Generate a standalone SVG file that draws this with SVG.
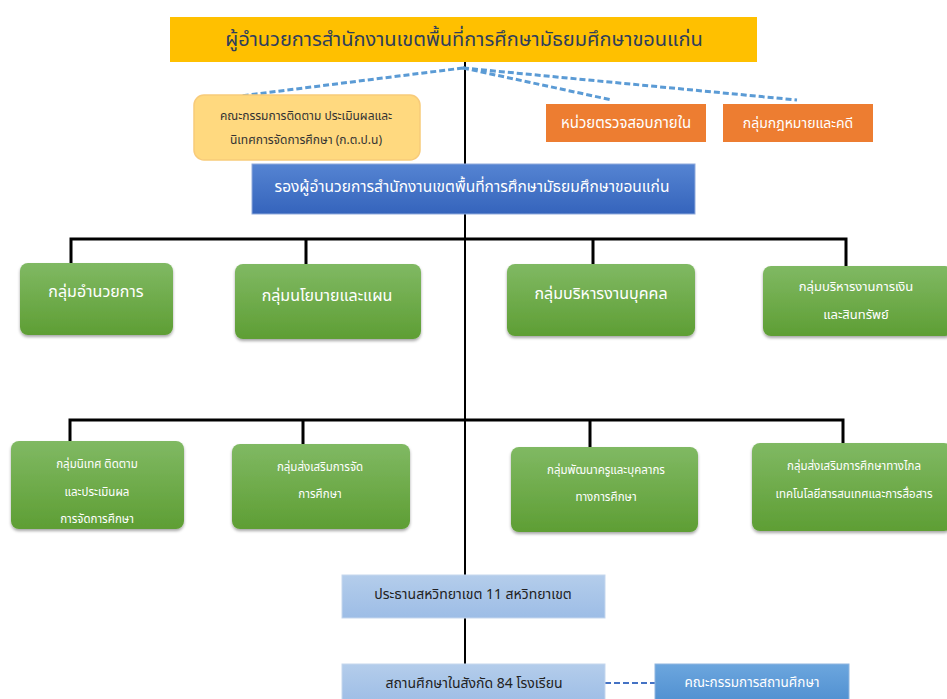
<svg xmlns="http://www.w3.org/2000/svg" width="947" height="699" viewBox="0 0 947 699">
<defs>
<linearGradient id="gGreen" x1="0" y1="0" x2="0" y2="1"><stop offset="0" stop-color="#80B963"/><stop offset="1" stop-color="#5E9E34"/></linearGradient>
<linearGradient id="gBlue" x1="0" y1="0" x2="0" y2="1"><stop offset="0" stop-color="#5584D2"/><stop offset="1" stop-color="#3564BC"/></linearGradient>
<linearGradient id="gLight" x1="0" y1="0" x2="0" y2="1"><stop offset="0" stop-color="#B4CDEB"/><stop offset="1" stop-color="#9DBDE6"/></linearGradient>
<linearGradient id="gMid" x1="0" y1="0" x2="0" y2="1"><stop offset="0" stop-color="#6CA6DE"/><stop offset="1" stop-color="#4F8FD0"/></linearGradient>
<filter id="sh" x="-10%" y="-10%" width="120%" height="130%"><feDropShadow dx="0" dy="2" stdDeviation="1.5" flood-color="#000" flood-opacity="0.35"/></filter>
<style>
text{font-family:"Noto Sans Thai","Noto Sans","DejaVu Sans",sans-serif;text-anchor:middle;dominant-baseline:central}
.solid{stroke:#000;stroke-width:3;fill:none}
.thin{stroke:#000;stroke-width:2;fill:none}
.dash{stroke:#5B9BD5;stroke-width:3;stroke-dasharray:6 3;fill:none}
.green{fill:url(#gGreen);filter:url(#sh)}
.gt{fill:#fff;font-size:16px}
.gs{fill:#fff;font-size:11.5px}
.wt{fill:#fff}
</style>
</defs>
<rect width="947" height="699" fill="#fff"/>
<g id="connectors">
<line class="thin" x1="465" y1="62" x2="465" y2="664"/>
<path class="dash" d="M463 68 L240 96 M463 68 L612 100 M463 68 L797 100"/>
<path class="solid" d="M71 265 V239 H846 V266 M306 239 V264 M593 239 V264"/>
<path class="solid" d="M70 443 V420 H843 V443 M303 420 V444 M590 420 V447"/>
<line class="dash" x1="605" y1="683" x2="655" y2="683" style="stroke:#4472C4;stroke-width:2"/>
</g>
<g id="director">
<rect x="170" y="17" width="587" height="45" fill="#FFC000"/>
<text x="464" y="40" font-size="20" fill="#2F3E5C">ผู้อำนวยการสำนักงานเขตพื้นที่การศึกษามัธยมศึกษาขอนแก่น</text>
</g>
<g id="kpn">
<rect x="194" y="95" width="226" height="65" rx="10" fill="#FFD97F" stroke="#F8CB7A" stroke-width="1.5"/>
<text x="306" y="116" font-size="12" fill="#333">คณะกรรมการติดตาม ประเมินผลและ</text>
<text x="306" y="140" font-size="12" fill="#333">นิเทศการจัดการศึกษา (ก.ต.ป.น)</text>
</g>
<g id="audit">
<rect x="546" y="104" width="160" height="38" fill="#ED7D31"/>
<text class="wt" x="626" y="123" font-size="15">หน่วยตรวจสอบภายใน</text>
</g>
<g id="legal">
<rect x="723" y="104" width="150" height="38" fill="#ED7D31"/>
<text class="wt" x="798" y="123" font-size="14">กลุ่มกฎหมายและคดี</text>
</g>
<g id="deputy">
<rect x="252" y="164" width="443" height="50" fill="url(#gBlue)" stroke="#8FAADC" stroke-width="1"/>
<text class="wt" x="472" y="187" font-size="15.5">รองผู้อำนวยการสำนักงานเขตพื้นที่การศึกษามัธยมศึกษาขอนแก่น</text>
</g>
<g id="g1"><rect class="green" x="20" y="263" width="153" height="72" rx="8"/><text class="gt" x="96" y="292">กลุ่มอำนวยการ</text></g>
<g id="g2"><rect class="green" x="235" y="264" width="186" height="75" rx="8"/><text class="gt" x="327" y="296">กลุ่มนโยบายและแผน</text></g>
<g id="g3"><rect class="green" x="507" y="264" width="188" height="72" rx="8"/><text class="gt" x="601" y="294">กลุ่มบริหารงานบุคคล</text></g>
<g id="g4"><rect class="green" x="763" y="266" width="190" height="70" rx="8"/><text class="wt" x="856" y="287" font-size="13">กลุ่มบริหารงานการเงิน</text><text class="wt" x="856" y="315" font-size="13">และสินทรัพย์</text></g>
<g id="g5"><rect class="green" x="11" y="441" width="173" height="88" rx="8"/><text class="gs" x="97" y="464">กลุ่มนิเทศ ติดตาม</text><text class="gs" x="97" y="492">และประเมินผล</text><text class="gs" x="97" y="519">การจัดการศึกษา</text></g>
<g id="g6"><rect class="green" x="232" y="444" width="178" height="85" rx="8"/><text class="gs" x="320" y="467">กลุ่มส่งเสริมการจัด</text><text class="gs" x="320" y="494">การศึกษา</text></g>
<g id="g7"><rect class="green" x="511" y="447" width="187" height="85" rx="8"/><text class="gs" x="606" y="470" font-size="12">กลุ่มพัฒนาครูและบุคลากร</text><text class="gs" x="606" y="497" font-size="12">ทางการศึกษา</text></g>
<g id="g8"><rect class="green" x="752" y="443" width="200" height="88" rx="8"/><text class="gs" x="854" y="466">กลุ่มส่งเสริมการศึกษาทางไกล</text><text class="gs" x="854" y="494">เทคโนโลยีสารสนเทศและการสื่อสาร</text></g>
<g id="cluster">
<rect x="342" y="575" width="263" height="43" fill="url(#gLight)" stroke="#C5D7EE" stroke-width="1"/>
<text x="473" y="594" font-size="14" fill="#222">ประธานสหวิทยาเขต 11 สหวิทยาเขต</text>
</g>
<g id="schools">
<rect x="342" y="664" width="263" height="40" fill="url(#gLight)" stroke="#C5D7EE" stroke-width="1"/>
<text x="474" y="683" font-size="14" fill="#222">สถานศึกษาในสังกัด 84 โรงเรียน</text>
</g>
<g id="board">
<rect x="655" y="664" width="194" height="40" fill="url(#gMid)" stroke="#8FB6E0" stroke-width="1"/>
<text class="wt" x="752" y="683" font-size="13.5">คณะกรรมการสถานศึกษา</text>
</g>
</svg>
